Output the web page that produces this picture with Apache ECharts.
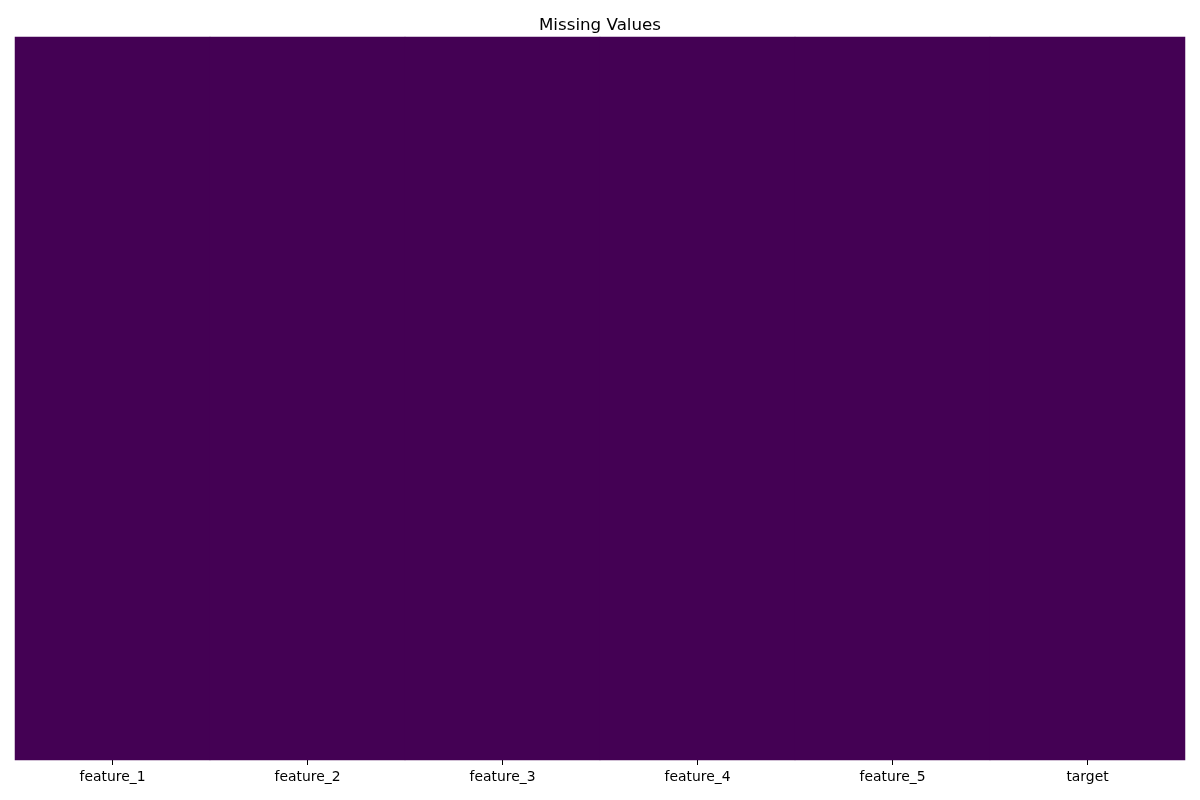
<!DOCTYPE html>
<html>
<head>
<meta charset="utf-8">
<script src="https://cdn.jsdelivr.net/npm/echarts@6/dist/echarts.min.js"></script>
<style>html,body{margin:0;padding:0;background:#fff}#chart{width:1200px;height:800px}</style>
</head>
<body>
<div id="chart"></div>
<script>
const columns = ['feature_1', 'feature_2', 'feature_3', 'feature_4', 'feature_5', 'target'];
const rows = ['all rows'];
const missingFlags = [0, 0, 0, 0, 0, 0];

const data = [];
columns.forEach((c, i) => { data.push([i, 0, missingFlags[i]]); });

const chart = echarts.init(document.getElementById('chart'));
chart.setOption({
  animation: false,
  backgroundColor: '#ffffff',
  title: {
    text: 'Missing Values',
    left: 'center',
    top: 12,
    textStyle: { fontFamily: 'DejaVu Sans', fontSize: 16.7, fontWeight: 'normal', color: '#000' }
  },
  grid: { left: 15, right: 15, top: 37, bottom: 40 },
  xAxis: {
    type: 'category',
    data: columns,
    axisLine: { show: false },
    axisTick: { show: true, alignWithLabel: true, length: 5, lineStyle: { color: '#000', width: 1 } },
    axisLabel: { fontFamily: 'DejaVu Sans', fontSize: 13.9, color: '#000', margin: 10 },
    splitLine: { show: false }
  },
  yAxis: {
    type: 'category',
    data: rows,
    show: false
  },
  visualMap: {
    show: false,
    min: 0,
    max: 1,
    dimension: 2,
    inRange: { color: ['#440154', '#fde725'] }
  },
  series: [{
    type: 'heatmap',
    data: data,
    itemStyle: { borderWidth: 0 },
    emphasis: { disabled: true }
  }]
});
</script>
</body>
</html>
